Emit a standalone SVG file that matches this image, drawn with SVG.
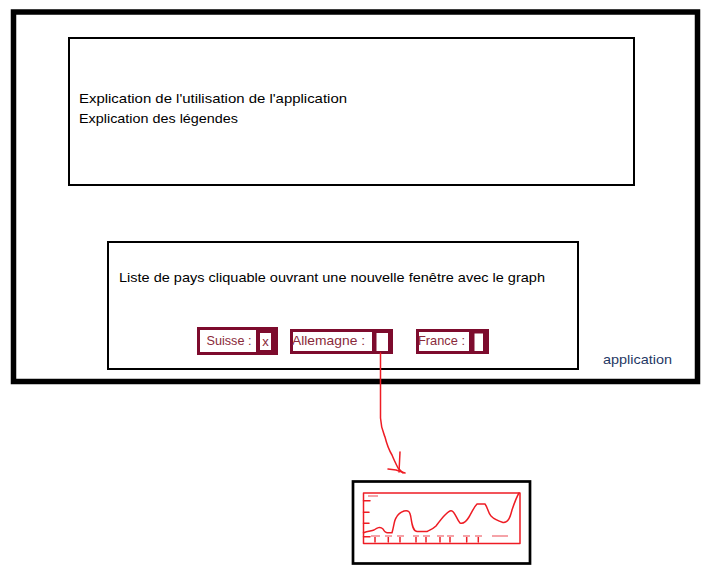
<svg xmlns="http://www.w3.org/2000/svg" width="704" height="576" viewBox="0 0 704 576">
<style>
.t{font-family:"Liberation Sans","DejaVu Sans",sans-serif;font-size:13.5px;fill:#000}
.lbl{font-family:"Liberation Sans","DejaVu Sans",sans-serif;font-size:13px;fill:#8a2a3a}
.box{fill:#fff;stroke:#000;stroke-width:2}
.cb{fill:#fff;stroke:#7d0b2d;stroke-width:3}
.cbf{fill:#7d0b2d}
.red{fill:none;stroke:#ee1c24;stroke-width:1.5;stroke-linecap:round;stroke-linejoin:round}
.faint{fill:none;stroke:#f5a3a8;stroke-width:2}
</style>
<rect width="704" height="576" fill="#fff"/>
<g id="application">
<rect x="13.5" y="12" width="684" height="369.5" fill="#fff" stroke="#000" stroke-width="5.5"/>
<text class="t" x="603" y="364" style="fill:#1f3864" textLength="69" lengthAdjust="spacingAndGlyphs">application</text>
</g>
<g id="explication">
<rect class="box" x="69" y="38" width="565" height="147"/>
<text class="t" x="79" y="103" textLength="268" lengthAdjust="spacingAndGlyphs">Explication de l'utilisation de l'application</text>
<text class="t" x="79" y="123" textLength="159" lengthAdjust="spacingAndGlyphs">Explication des légendes</text>
</g>
<g id="liste-pays">
<rect class="box" x="108" y="242" width="470" height="127"/>
<text class="t" x="119" y="282" textLength="426" lengthAdjust="spacingAndGlyphs">Liste de pays cliquable ouvrant une nouvelle fenêtre avec le graph</text>
</g>
<g id="suisse">
<rect class="cb" x="198.5" y="328.5" width="78" height="25"/>
<rect class="cbf" x="256" y="328" width="21.5" height="26"/>
<rect x="260" y="333" width="11" height="17" fill="#fff"/>
<text class="lbl" x="206.5" y="345" textLength="45" lengthAdjust="spacingAndGlyphs">Suisse :</text>
<text class="lbl" x="265.5" y="346" text-anchor="middle">x</text>
</g>
<g id="allemagne">
<rect class="cb" x="291.5" y="330.5" width="100" height="22"/>
<rect class="cbf" x="372" y="330" width="20" height="23"/>
<rect x="376.5" y="333" width="11.5" height="18" fill="#fff"/>
<text class="lbl" x="292" y="345" textLength="73" lengthAdjust="spacingAndGlyphs">Allemagne :</text>
</g>
<g id="france">
<rect class="cb" x="417.5" y="330.5" width="70" height="22"/>
<rect class="cbf" x="469" y="330" width="19" height="23"/>
<rect x="474.5" y="333.5" width="8.5" height="17.5" fill="#fff"/>
<text class="lbl" x="418" y="345" textLength="47" lengthAdjust="spacingAndGlyphs">France :</text>
</g>
<g id="connectors">
<path class="red" d="M380.5,353 L380.5,418 C381,428 383,432 385,437 C387,445 389,450 392,455 C394,460 396,464 398,468 L403,473"/>
<path class="red" d="M400,452 L399,472 M388,469 L396,470 L405,473"/>
</g>
<g id="graph">
<rect x="353" y="481.5" width="177" height="82" fill="#fff" stroke="#000" stroke-width="2.7"/>
<rect class="red" x="363.5" y="493" width="156.5" height="50.5"/>
<path class="red" d="M363.5,532.7 C368,531 371,531 374,530 C377,528 380,526 383,529 C384,531 385,532.7 387,532.7 L392,532.7 C394,526 394,521 396,518 C398,514 401,512 404,511 C408,510 410,511 411,518 C412,525 413,531 417,531.5 L427,531.5 C430,530 433,529 436,526 C439,522 442,518 445,515 C448,512 450,510 452,511 C455,512 457,520 460,523 C463,524 466,522 469,517 C472,512 474,507 477,504 L485,504 C488,508 488,513 491,516 C494,519 498,521 503,522.5 C508,523 510,518 512,510 C514,504 516,498 519,493"/>
<path class="red" d="M363.5,500.7 H370 M363.5,512.3 H369 M363.5,523.3 H369 M363.5,536.7 H370"/>
<path class="red" d="M375,536 V542 M388.3,536 V542 M400,536 V542 M416,536 V542 M426,536 V542 M440,536 V542 M450,536 V542 M466.7,536 V542 M478.3,536 V542"/>
<path class="faint" d="M368,496 H378 M371,536 H380 M385,536 H392 M397,536 H404 M413,536 H419 M423,536 H430 M437,536 H444 M447,536 H454 M463,536 H470 M475,536 H482 M492,536 H508"/>
</g>
</svg>
